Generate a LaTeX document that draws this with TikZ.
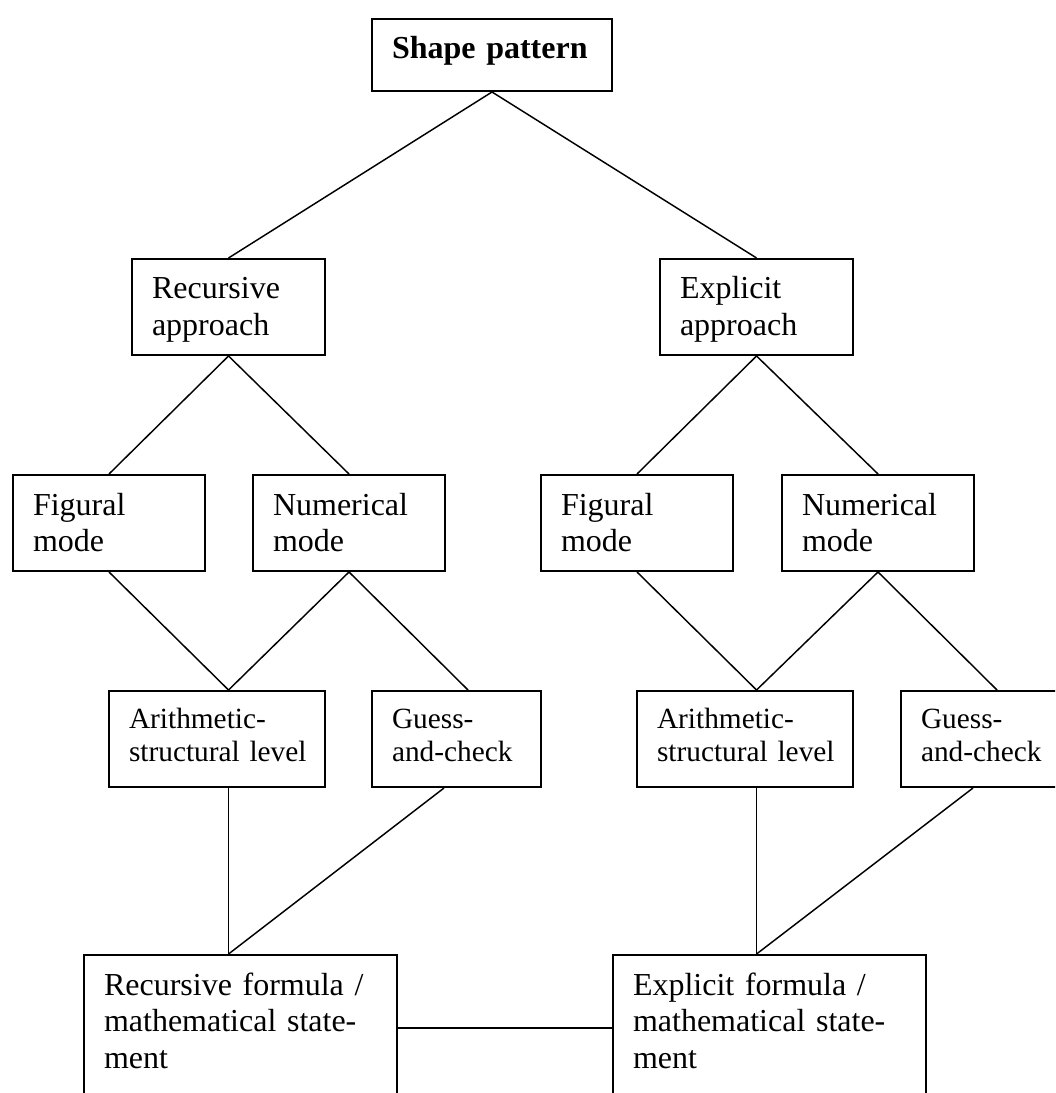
\documentclass[tikz,border=0pt]{standalone}
\usepackage{fontspec}
\setmainfont{Liberation Serif}
\usepackage{tikz}
\usetikzlibrary{positioning,calc}

\begin{document}
\begin{tikzpicture}[x=0.375pt,y=-0.375pt,
    box/.style={draw,line width=0.75pt,anchor=north west,align=left,
        inner xsep=7.5pt,inner ysep=0pt,text height=15pt,
        font=\fontsize{12}{13.8}\selectfont},
    smallbox/.style={box,text height=14pt,font=\fontsize{11}{12.6}\selectfont},
    link/.style={line width=0.55pt}]
            \useasboundingbox (0,0) rectangle (1055,1093);
            \clip (0,0) rectangle (1055,1093);
            \node[box,text width=75pt,text depth=12pt] (top) at (371,18) {\textbf{Shape pattern}};
            \node[box,text width=57.4pt,text depth=21pt] (recA) at (131,258) {Recursive\\approach};
            \node[box,text width=57.4pt,text depth=21pt] (expA) at (659,258) {Explicit\\approach};
            \node[box,text width=57pt,text depth=21pt] (figL) at (12,474) {Figural\\mode};
            \node[box,text width=57pt,text depth=21pt] (numL) at (252,474) {Numerical\\mode};
            \node[box,text width=57pt,text depth=21pt] (figR) at (540,474) {Figural\\mode};
            \node[box,text width=57pt,text depth=21pt] (numR) at (781,474) {Numerical\\mode};
            \node[smallbox,text width=66pt,text depth=22pt] (ariL) at (108,690) {Arithmetic-\\\mbox{structural level}};
            \node[smallbox,text width=48.4pt,text depth=22pt] (gueL) at (371,690) {Guess-\\and-check};
            \node[smallbox,text width=66pt,text depth=22pt] (ariR) at (636,690) {Arithmetic-\\\mbox{structural level}};
            \node[smallbox,text width=48.4pt,text depth=22pt] (gueR) at (900,690) {Guess-\\and-check};
            \node[box,text width=102.4pt,text depth=39.75pt] (forL) at (83,954) {Recursive formula /\\mathematical state-\\ment};
            \node[box,text width=102.4pt,text depth=39.75pt] (forR) at (612,954) {Explicit formula /\\mathematical state-\\ment};
            \draw[link] (top.south) -- (recA.north);
            \draw[link] (top.south) -- (expA.north);
            \draw[link] (recA.south) -- (figL.north);
            \draw[link] (recA.south) -- (numL.north);
            \draw[link] (expA.south) -- (figR.north);
            \draw[link] (expA.south) -- (numR.north);
            \draw[link] (figL.south) -- (ariL.north -| recA.south);
            \draw[link] (numL.south) -- (ariL.north -| recA.south);
            \draw[link] (numL.south) -- ([xshift=4.3pt]gueL.north);
            \draw[link] (figR.south) -- (ariR.north -| expA.south);
            \draw[link] (numR.south) -- (ariR.north -| expA.south);
            \draw[link] (numR.south) -- ([xshift=4.3pt]gueR.north);
            \draw[link] (ariL.south -| recA.south) -- (forL.north -| recA.south);
            \draw[link] ([xshift=-4.7pt]gueL.south) -- (forL.north -| recA.south);
            \draw[link] (ariR.south -| expA.south) -- (forR.north -| expA.south);
            \draw[link] ([xshift=-4.7pt]gueR.south) -- (forR.north -| expA.south);
            \draw[link] (forL.east) -- (forR.west);
        \end{tikzpicture}
\end{document}
